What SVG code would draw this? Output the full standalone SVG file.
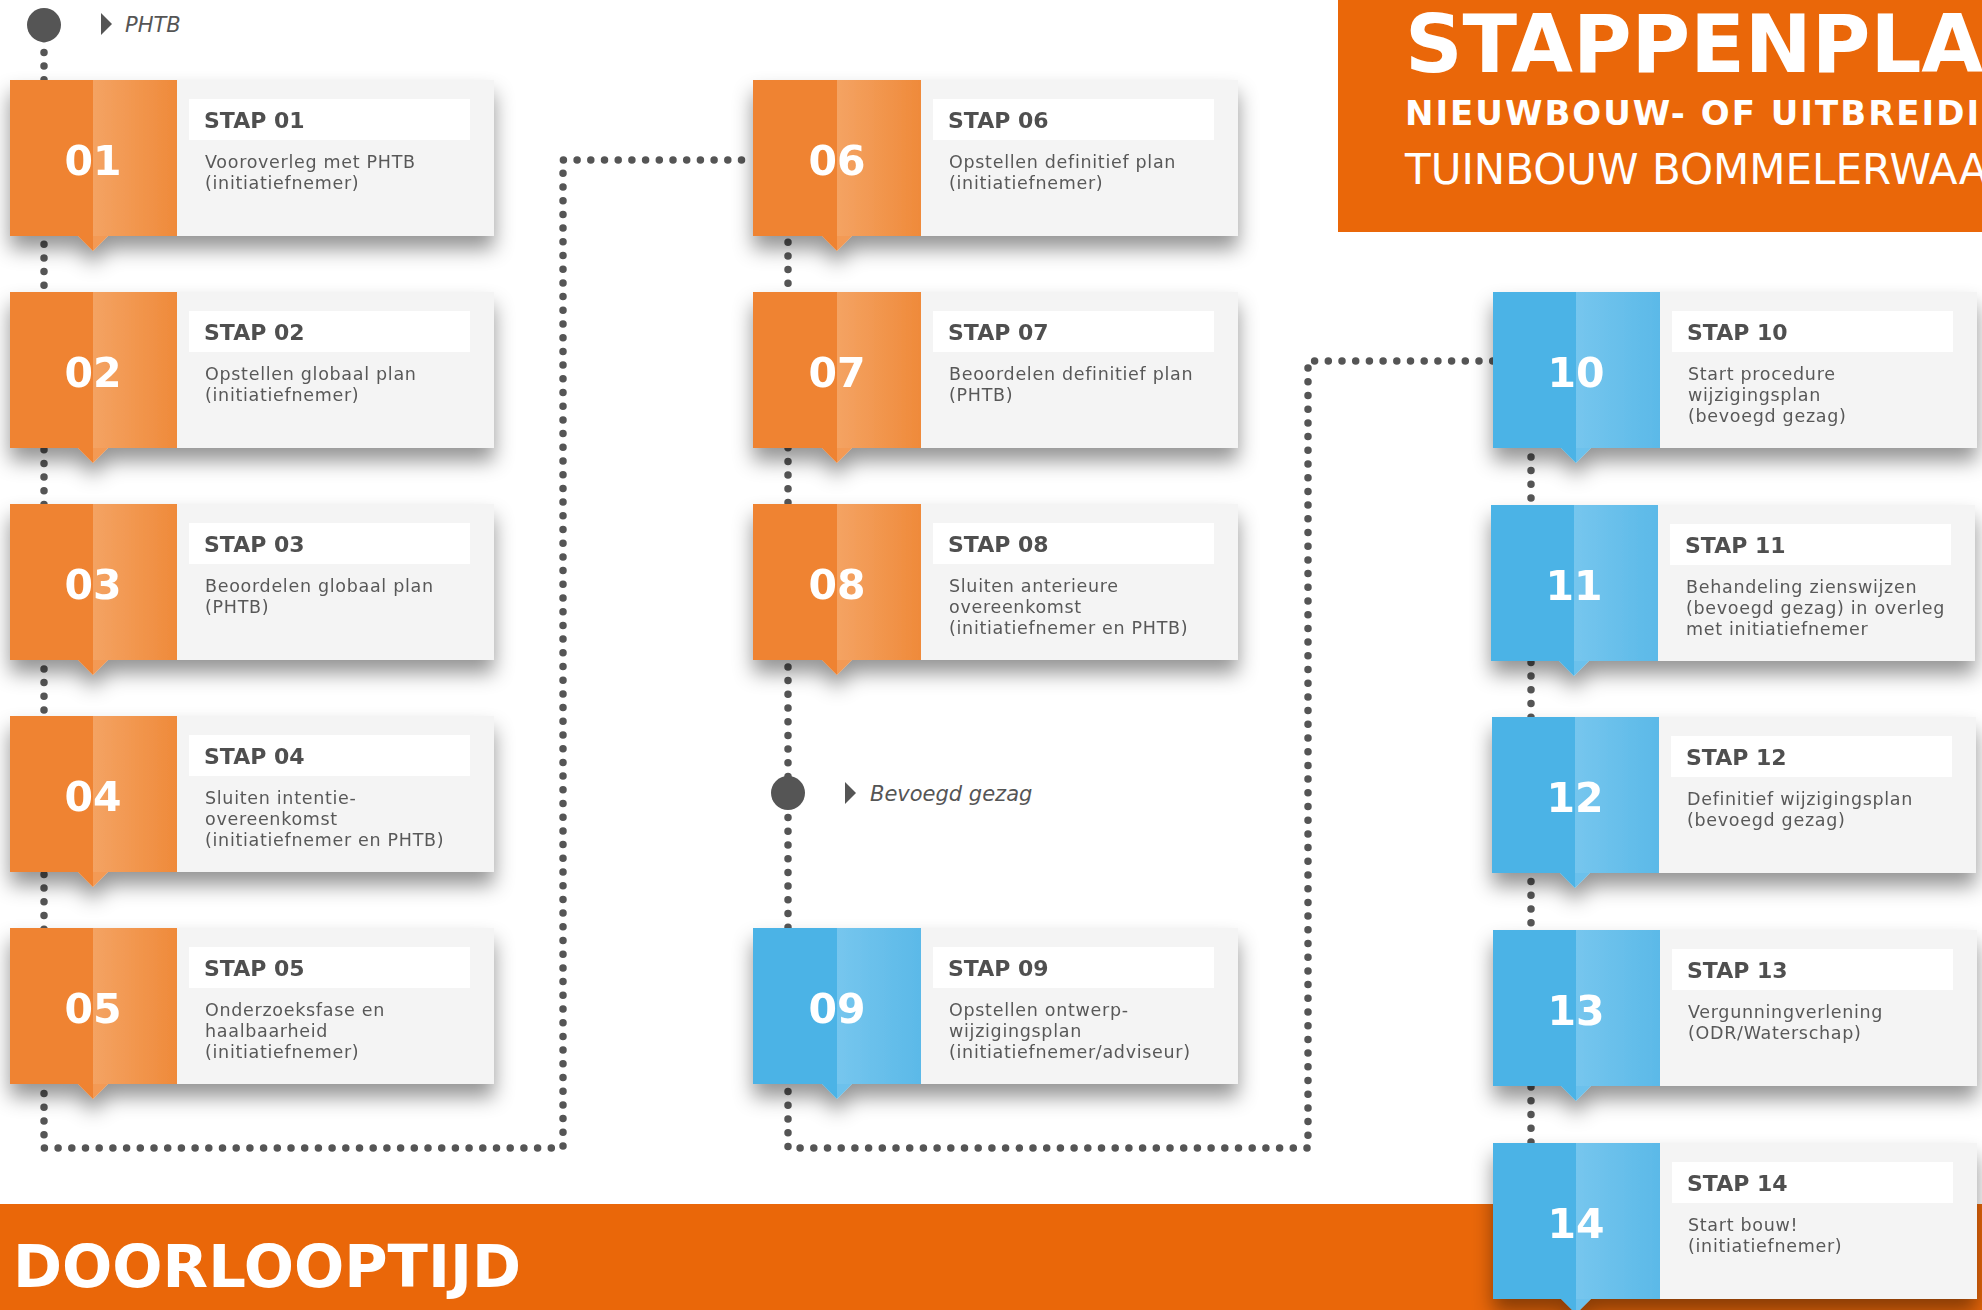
<svg xmlns="http://www.w3.org/2000/svg" width="1982" height="1310" viewBox="0 0 1982 1310">
<defs>
  <linearGradient id="gO" x1="0" y1="0" x2="1" y2="0">
    <stop offset="0" stop-color="#F4A363"/>
    <stop offset="1" stop-color="#EF8A3A"/>
  </linearGradient>
  <linearGradient id="gB" x1="0" y1="0" x2="1" y2="0">
    <stop offset="0" stop-color="#76C6EE"/>
    <stop offset="1" stop-color="#5BB9E8"/>
  </linearGradient>
  <filter id="sh" x="-10%" y="-15%" width="120%" height="160%">
    <feDropShadow dx="0" dy="13" stdDeviation="10" flood-color="#000" flood-opacity="0.42"/>
  </filter>
  <style>
    .dko{fill:#EF8330}.lto{fill:url(#gO)}.tlo{fill:#F39A54}
    .dkb{fill:#4BB3E6}.ltb{fill:url(#gB)}.tlb{fill:#6CC1EC}
    .panel{fill:#F4F4F4}.tbox{fill:#FFFFFF}
    .ttl{font-family:"DejaVu Sans",Verdana,sans-serif;font-weight:bold;font-size:22px;fill:#505050}
    .num{font-family:"DejaVu Sans",Verdana,sans-serif;font-weight:bold;font-size:41px;fill:#FFFFFF;text-anchor:middle}
    .desc{font-family:"DejaVu Sans",Verdana,sans-serif;font-size:17.5px;fill:#585858;letter-spacing:0.7px}
    .lbl{font-family:"DejaVu Sans",Verdana,sans-serif;font-style:italic;font-size:21px;fill:#555555}
    .dots{fill:none;stroke:#555555;stroke-width:7.5;stroke-linecap:round;stroke-dasharray:0 13.7}
    .card{filter:url(#sh)}
  </style>
</defs>
<rect x="0" y="0" width="1982" height="1310" fill="#FFFFFF"/>

<!-- header and footer bands -->
<g id="header">
  <rect x="1338" y="0" width="644" height="232" fill="#EA6709"/>
  <text x="1405" y="72" font-family="DejaVu Sans, Verdana, sans-serif" font-weight="bold" font-size="80" fill="#FFFFFF">STAPPENPLA</text>
  <text x="1405" y="125" font-family="DejaVu Sans, Verdana, sans-serif" font-weight="bold" font-size="34" letter-spacing="2" fill="#FFFFFF">NIEUWBOUW- OF UITBREIDI</text>
  <text x="1405" y="184" font-family="DejaVu Sans, Verdana, sans-serif" font-size="42" fill="#FFFFFF">TUINBOUW BOMMELERWAA</text>
</g>
<g id="footer">
  <rect x="0" y="1204" width="1982" height="106" fill="#EA6709"/>
  <text x="13" y="1287" font-family="DejaVu Sans, Verdana, sans-serif" font-weight="bold" font-size="58" textLength="508" lengthAdjust="spacingAndGlyphs" fill="#FFFFFF">DOORLOOPTIJD</text>
</g>

<!-- connectors -->
<g id="connectors">
  <path class="dots" d="M44,25 V1148 H563 V160 H753"/>
  <path class="dots" d="M788,160 V1148 H1308 V361 H1493"/>
  <path class="dots" d="M1531,361 V1150"/>
</g>

<!-- milestones -->
<g id="start-phtb">
  <circle cx="44" cy="25" r="17" fill="#555555"/>
  <polygon points="101,13 112,24 101,35" fill="#555555"/>
  <text class="lbl" x="125" y="32">PHTB</text>
</g>
<g id="start-bevoegd-gezag">
  <circle cx="788" cy="793" r="17" fill="#555555"/>
  <polygon points="845,782 856,793 845,804" fill="#555555"/>
  <text class="lbl" x="870" y="801">Bevoegd gezag</text>
</g>

<!-- column 1 -->
<g id="step01" class="card" transform="translate(10,80)">
  <rect class="dko" x="0" y="0" width="83" height="156"/><rect class="lto" x="83" y="0" width="84" height="156"/>
  <polygon class="dko" points="68,156 83,156 83,171"/><polygon class="tlo" points="83,156 98,156 83,171"/>
  <rect class="panel" x="167" y="0" width="317" height="156"/><rect class="tbox" x="179" y="19" width="281" height="41"/>
  <text class="ttl" x="194" y="48">STAP 01</text><text class="num" x="83" y="95">01</text>
  <text class="desc" x="195" y="88">Vooroverleg met PHTB<tspan x="195" dy="21">(initiatiefnemer)</tspan></text>
</g>
<g id="step02" class="card" transform="translate(10,292)">
  <rect class="dko" x="0" y="0" width="83" height="156"/><rect class="lto" x="83" y="0" width="84" height="156"/>
  <polygon class="dko" points="68,156 83,156 83,171"/><polygon class="tlo" points="83,156 98,156 83,171"/>
  <rect class="panel" x="167" y="0" width="317" height="156"/><rect class="tbox" x="179" y="19" width="281" height="41"/>
  <text class="ttl" x="194" y="48">STAP 02</text><text class="num" x="83" y="95">02</text>
  <text class="desc" x="195" y="88">Opstellen globaal plan<tspan x="195" dy="21">(initiatiefnemer)</tspan></text>
</g>
<g id="step03" class="card" transform="translate(10,504)">
  <rect class="dko" x="0" y="0" width="83" height="156"/><rect class="lto" x="83" y="0" width="84" height="156"/>
  <polygon class="dko" points="68,156 83,156 83,171"/><polygon class="tlo" points="83,156 98,156 83,171"/>
  <rect class="panel" x="167" y="0" width="317" height="156"/><rect class="tbox" x="179" y="19" width="281" height="41"/>
  <text class="ttl" x="194" y="48">STAP 03</text><text class="num" x="83" y="95">03</text>
  <text class="desc" x="195" y="88">Beoordelen globaal plan<tspan x="195" dy="21">(PHTB)</tspan></text>
</g>
<g id="step04" class="card" transform="translate(10,716)">
  <rect class="dko" x="0" y="0" width="83" height="156"/><rect class="lto" x="83" y="0" width="84" height="156"/>
  <polygon class="dko" points="68,156 83,156 83,171"/><polygon class="tlo" points="83,156 98,156 83,171"/>
  <rect class="panel" x="167" y="0" width="317" height="156"/><rect class="tbox" x="179" y="19" width="281" height="41"/>
  <text class="ttl" x="194" y="48">STAP 04</text><text class="num" x="83" y="95">04</text>
  <text class="desc" x="195" y="88">Sluiten intentie-<tspan x="195" dy="21">overeenkomst</tspan><tspan x="195" dy="21">(initiatiefnemer en PHTB)</tspan></text>
</g>
<g id="step05" class="card" transform="translate(10,928)">
  <rect class="dko" x="0" y="0" width="83" height="156"/><rect class="lto" x="83" y="0" width="84" height="156"/>
  <polygon class="dko" points="68,156 83,156 83,171"/><polygon class="tlo" points="83,156 98,156 83,171"/>
  <rect class="panel" x="167" y="0" width="317" height="156"/><rect class="tbox" x="179" y="19" width="281" height="41"/>
  <text class="ttl" x="194" y="48">STAP 05</text><text class="num" x="83" y="95">05</text>
  <text class="desc" x="195" y="88">Onderzoeksfase en<tspan x="195" dy="21">haalbaarheid</tspan><tspan x="195" dy="21">(initiatiefnemer)</tspan></text>
</g>

<!-- column 2 -->
<g id="step06" class="card" transform="translate(753,80)">
  <rect class="dko" x="0" y="0" width="84" height="156"/><rect class="lto" x="84" y="0" width="84" height="156"/>
  <polygon class="dko" points="69,156 84,156 84,171"/><polygon class="tlo" points="84,156 99,156 84,171"/>
  <rect class="panel" x="168" y="0" width="317" height="156"/><rect class="tbox" x="180" y="19" width="281" height="41"/>
  <text class="ttl" x="195" y="48">STAP 06</text><text class="num" x="84" y="95">06</text>
  <text class="desc" x="196" y="88">Opstellen definitief plan<tspan x="196" dy="21">(initiatiefnemer)</tspan></text>
</g>
<g id="step07" class="card" transform="translate(753,292)">
  <rect class="dko" x="0" y="0" width="84" height="156"/><rect class="lto" x="84" y="0" width="84" height="156"/>
  <polygon class="dko" points="69,156 84,156 84,171"/><polygon class="tlo" points="84,156 99,156 84,171"/>
  <rect class="panel" x="168" y="0" width="317" height="156"/><rect class="tbox" x="180" y="19" width="281" height="41"/>
  <text class="ttl" x="195" y="48">STAP 07</text><text class="num" x="84" y="95">07</text>
  <text class="desc" x="196" y="88">Beoordelen definitief plan<tspan x="196" dy="21">(PHTB)</tspan></text>
</g>
<g id="step08" class="card" transform="translate(753,504)">
  <rect class="dko" x="0" y="0" width="84" height="156"/><rect class="lto" x="84" y="0" width="84" height="156"/>
  <polygon class="dko" points="69,156 84,156 84,171"/><polygon class="tlo" points="84,156 99,156 84,171"/>
  <rect class="panel" x="168" y="0" width="317" height="156"/><rect class="tbox" x="180" y="19" width="281" height="41"/>
  <text class="ttl" x="195" y="48">STAP 08</text><text class="num" x="84" y="95">08</text>
  <text class="desc" x="196" y="88">Sluiten anterieure<tspan x="196" dy="21">overeenkomst</tspan><tspan x="196" dy="21">(initiatiefnemer en PHTB)</tspan></text>
</g>
<g id="step09" class="card" transform="translate(753,928)">
  <rect class="dkb" x="0" y="0" width="84" height="156"/><rect class="ltb" x="84" y="0" width="84" height="156"/>
  <polygon class="dkb" points="69,156 84,156 84,171"/><polygon class="tlb" points="84,156 99,156 84,171"/>
  <rect class="panel" x="168" y="0" width="317" height="156"/><rect class="tbox" x="180" y="19" width="281" height="41"/>
  <text class="ttl" x="195" y="48">STAP 09</text><text class="num" x="84" y="95">09</text>
  <text class="desc" x="196" y="88">Opstellen ontwerp-<tspan x="196" dy="21">wijzigingsplan</tspan><tspan x="196" dy="21">(initiatiefnemer/adviseur)</tspan></text>
</g>

<!-- column 3 -->
<g id="step10" class="card" transform="translate(1493,292)">
  <rect class="dkb" x="0" y="0" width="83" height="156"/><rect class="ltb" x="83" y="0" width="84" height="156"/>
  <polygon class="dkb" points="68,156 83,156 83,171"/><polygon class="tlb" points="83,156 98,156 83,171"/>
  <rect class="panel" x="167" y="0" width="317" height="156"/><rect class="tbox" x="179" y="19" width="281" height="41"/>
  <text class="ttl" x="194" y="48">STAP 10</text><text class="num" x="83" y="95">10</text>
  <text class="desc" x="195" y="88">Start procedure<tspan x="195" dy="21">wijzigingsplan</tspan><tspan x="195" dy="21">(bevoegd gezag)</tspan></text>
</g>
<g id="step11" class="card" transform="translate(1491,505)">
  <rect class="dkb" x="0" y="0" width="83" height="156"/><rect class="ltb" x="83" y="0" width="84" height="156"/>
  <polygon class="dkb" points="68,156 83,156 83,171"/><polygon class="tlb" points="83,156 98,156 83,171"/>
  <rect class="panel" x="167" y="0" width="317" height="156"/><rect class="tbox" x="179" y="19" width="281" height="41"/>
  <text class="ttl" x="194" y="48">STAP 11</text><text class="num" x="83" y="95">11</text>
  <text class="desc" x="195" y="88">Behandeling zienswijzen<tspan x="195" dy="21">(bevoegd gezag) in overleg</tspan><tspan x="195" dy="21">met initiatiefnemer</tspan></text>
</g>
<g id="step12" class="card" transform="translate(1492,717)">
  <rect class="dkb" x="0" y="0" width="83" height="156"/><rect class="ltb" x="83" y="0" width="84" height="156"/>
  <polygon class="dkb" points="68,156 83,156 83,171"/><polygon class="tlb" points="83,156 98,156 83,171"/>
  <rect class="panel" x="167" y="0" width="317" height="156"/><rect class="tbox" x="179" y="19" width="281" height="41"/>
  <text class="ttl" x="194" y="48">STAP 12</text><text class="num" x="83" y="95">12</text>
  <text class="desc" x="195" y="88">Definitief wijzigingsplan<tspan x="195" dy="21">(bevoegd gezag)</tspan></text>
</g>
<g id="step13" class="card" transform="translate(1493,930)">
  <rect class="dkb" x="0" y="0" width="83" height="156"/><rect class="ltb" x="83" y="0" width="84" height="156"/>
  <polygon class="dkb" points="68,156 83,156 83,171"/><polygon class="tlb" points="83,156 98,156 83,171"/>
  <rect class="panel" x="167" y="0" width="317" height="156"/><rect class="tbox" x="179" y="19" width="281" height="41"/>
  <text class="ttl" x="194" y="48">STAP 13</text><text class="num" x="83" y="95">13</text>
  <text class="desc" x="195" y="88">Vergunningverlening<tspan x="195" dy="21">(ODR/Waterschap)</tspan></text>
</g>
<g id="step14" class="card" transform="translate(1493,1143)">
  <rect class="dkb" x="0" y="0" width="83" height="156"/><rect class="ltb" x="83" y="0" width="84" height="156"/>
  <polygon class="dkb" points="68,156 83,156 83,171"/><polygon class="tlb" points="83,156 98,156 83,171"/>
  <rect class="panel" x="167" y="0" width="317" height="156"/><rect class="tbox" x="179" y="19" width="281" height="41"/>
  <text class="ttl" x="194" y="48">STAP 14</text><text class="num" x="83" y="95">14</text>
  <text class="desc" x="195" y="88">Start bouw!<tspan x="195" dy="21">(initiatiefnemer)</tspan></text>
</g>
</svg>
